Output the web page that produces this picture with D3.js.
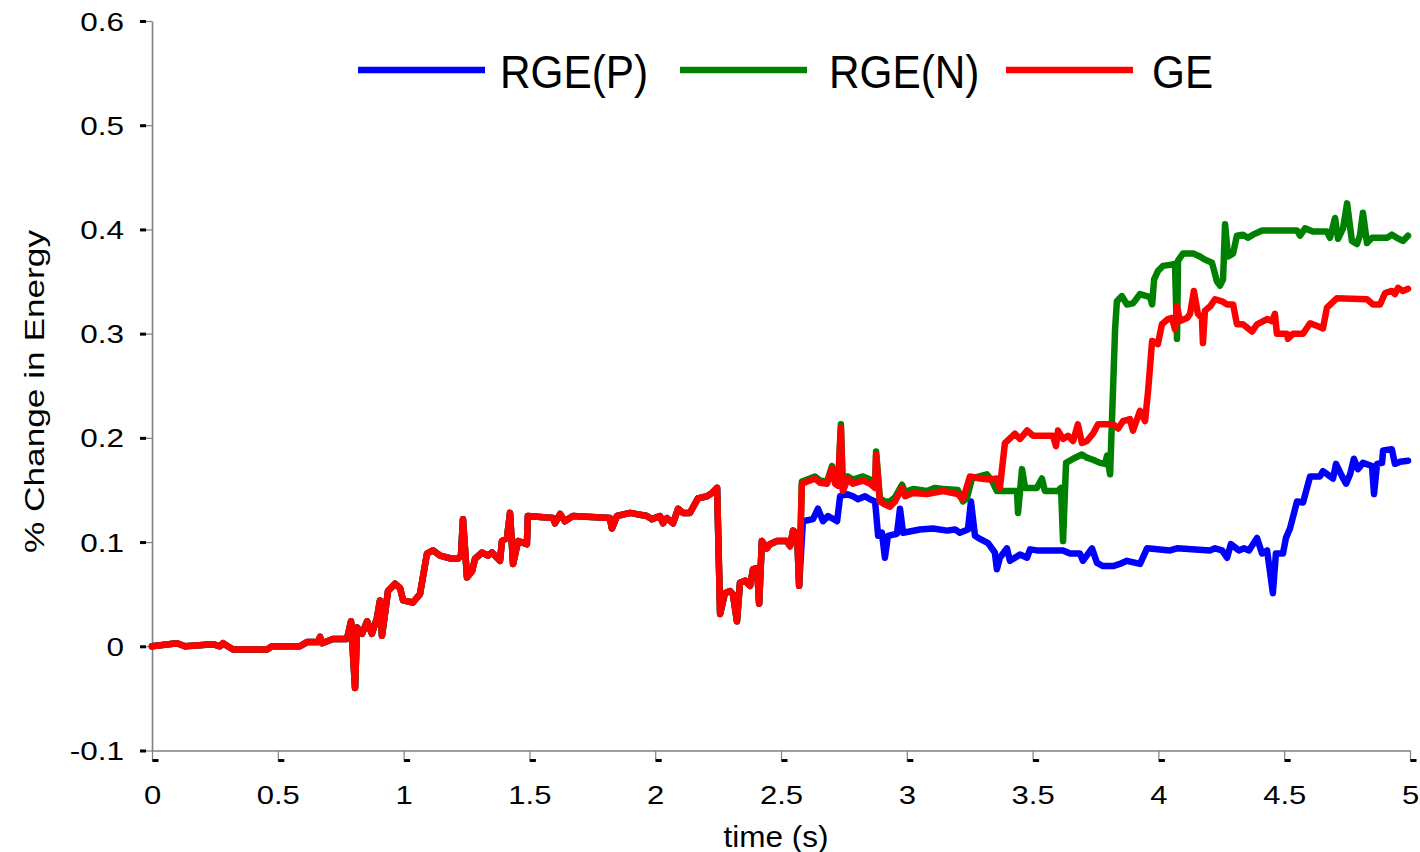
<!DOCTYPE html>
<html>
<head>
<meta charset="utf-8">
<script src="https://cdn.jsdelivr.net/npm/d3@7"></script>
<style>
body { margin: 0; background: #fff; }
text { font-family: "Liberation Sans", Arial, sans-serif; fill: #000; }
</style>
</head>
<body>
<script>
var width = 1420;
var height = 852;

// [time (s), % change] - all three runs coincide until ~2.58 s
var common = [
  [0,0],[0.099,0.003],[0.131,0],[0.242,0.002],[0.27,0],[0.282,0.003],[0.322,-0.003],[0.457,-0.003],
  [0.477,0],[0.588,0],[0.616,0.004],[0.66,0.004],[0.668,0.009],[0.676,0.003],[0.719,0.007],[0.775,0.007],
  [0.791,0.024],[0.807,-0.04],[0.815,0.018],[0.835,0.012],[0.855,0.024],[0.874,0.012],[0.894,0.027],
  [0.906,0.044],[0.914,0.01],[0.922,0.024],[0.938,0.053],[0.966,0.06],[0.986,0.056],[0.998,0.044],
  [1.037,0.042],[1.065,0.05],[1.093,0.089],[1.117,0.092],[1.145,0.087],[1.192,0.084],[1.216,0.084],
  [1.228,0.087],[1.236,0.122],[1.252,0.066],[1.272,0.072],[1.284,0.084],[1.312,0.09],[1.335,0.087],
  [1.351,0.09],[1.383,0.082],[1.391,0.101],[1.411,0.104],[1.423,0.128],[1.435,0.079],[1.455,0.101],
  [1.49,0.098],[1.494,0.125],[1.594,0.123],[1.602,0.118],[1.622,0.127],[1.641,0.12],[1.673,0.125],
  [1.82,0.123],[1.828,0.113],[1.848,0.125],[1.9,0.128],[1.967,0.125],[1.987,0.122],[2.019,0.125],
  [2.031,0.118],[2.047,0.123],[2.071,0.118],[2.091,0.132],[2.11,0.128],[2.138,0.128],[2.17,0.142],
  [2.206,0.144],[2.226,0.147],[2.246,0.152],[2.258,0.031],[2.277,0.051],[2.297,0.053],[2.309,0.05],
  [2.325,0.024],[2.337,0.061],[2.357,0.063],[2.377,0.058],[2.389,0.074],[2.405,0.075],[2.413,0.041],
  [2.424,0.101],[2.444,0.094],[2.456,0.098],[2.484,0.101],[2.524,0.101],[2.536,0.096],[2.548,0.111],
  [2.564,0.108],[2.572,0.058]
];

var rgePTail = [
  [2.587,0.12],[2.627,0.122],[2.647,0.132],[2.667,0.12],[2.687,0.125],[2.723,0.12],[2.735,0.144],
  [2.762,0.146],[2.786,0.144],[2.806,0.141],[2.834,0.144],[2.854,0.141],[2.874,0.139],[2.886,0.106],
  [2.901,0.109],[2.913,0.085],[2.925,0.106],[2.961,0.108],[2.973,0.132],[2.985,0.109],[3.052,0.112],
  [3.104,0.113],[3.16,0.111],[3.192,0.112],[3.211,0.109],[3.243,0.112],[3.255,0.139],[3.271,0.106],
  [3.291,0.103],[3.323,0.099],[3.35,0.09],[3.358,0.074],[3.37,0.085],[3.398,0.094],[3.41,0.082],
  [3.45,0.088],[3.478,0.085],[3.49,0.093],[3.517,0.092],[3.621,0.092],[3.649,0.089],[3.688,0.089],
  [3.7,0.082],[3.736,0.094],[3.756,0.08],[3.78,0.077],[3.82,0.077],[3.847,0.079],[3.875,0.082],
  [3.927,0.079],[3.955,0.094],[4.046,0.092],[4.074,0.094],[4.205,0.092],[4.225,0.094],[4.253,0.092],
  [4.273,0.085],[4.288,0.098],[4.32,0.092],[4.34,0.094],[4.36,0.092],[4.392,0.104],[4.412,0.089],
  [4.432,0.092],[4.455,0.051],[4.467,0.089],[4.495,0.089],[4.507,0.104],[4.523,0.113],[4.551,0.139],
  [4.575,0.138],[4.603,0.163],[4.642,0.163],[4.654,0.168],[4.694,0.161],[4.706,0.175],[4.73,0.163],
  [4.746,0.156],[4.762,0.165],[4.777,0.18],[4.793,0.17],[4.813,0.176],[4.849,0.173],[4.857,0.146],
  [4.869,0.175],[4.889,0.176],[4.893,0.188],[4.928,0.189],[4.94,0.175],[4.96,0.177],[4.992,0.178]
];

var rgeNTail = [
  [2.583,0.158],[2.615,0.161],[2.635,0.163],[2.655,0.159],[2.683,0.158],[2.703,0.173],[2.715,0.158],
  [2.727,0.156],[2.738,0.213],[2.746,0.151],[2.766,0.163],[2.786,0.16],[2.826,0.163],[2.854,0.16],
  [2.874,0.155],[2.878,0.187],[2.893,0.142],[2.913,0.139],[2.933,0.139],[2.953,0.143],[2.981,0.155],
  [2.993,0.148],[3.025,0.151],[3.08,0.149],[3.112,0.152],[3.144,0.151],[3.203,0.15],[3.223,0.139],
  [3.239,0.142],[3.259,0.161],[3.318,0.165],[3.338,0.159],[3.358,0.149],[3.41,0.149],[3.438,0.149],
  [3.442,0.128],[3.458,0.17],[3.47,0.152],[3.517,0.152],[3.537,0.161],[3.549,0.149],[3.601,0.149],
  [3.613,0.152],[3.621,0.101],[3.633,0.176],[3.661,0.18],[3.696,0.184],[3.716,0.181],[3.74,0.179],
  [3.768,0.176],[3.788,0.175],[3.796,0.183],[3.808,0.165],[3.828,0.305],[3.835,0.331],[3.855,0.336],
  [3.875,0.328],[3.899,0.329],[3.927,0.338],[3.967,0.335],[3.975,0.328],[3.983,0.352],[3.998,0.36],
  [4.018,0.365],[4.046,0.366],[4.066,0.367],[4.074,0.295],[4.078,0.37],[4.098,0.377],[4.138,0.377],
  [4.165,0.374],[4.185,0.371],[4.213,0.368],[4.233,0.35],[4.245,0.346],[4.257,0.352],[4.265,0.405],
  [4.277,0.374],[4.297,0.377],[4.312,0.394],[4.336,0.395],[4.356,0.392],[4.376,0.395],[4.412,0.399],
  [4.551,0.399],[4.563,0.394],[4.583,0.401],[4.614,0.398],[4.67,0.398],[4.682,0.392],[4.702,0.411],
  [4.714,0.391],[4.734,0.401],[4.75,0.425],[4.769,0.389],[4.789,0.386],[4.801,0.394],[4.813,0.416],
  [4.829,0.387],[4.849,0.392],[4.909,0.392],[4.928,0.395],[4.948,0.392],[4.972,0.389],[4.992,0.394]
];

var geTail = [
  [2.583,0.156],[2.615,0.159],[2.635,0.161],[2.655,0.157],[2.683,0.156],[2.703,0.171],[2.715,0.156],
  [2.727,0.154],[2.738,0.21],[2.746,0.149],[2.766,0.161],[2.786,0.156],[2.826,0.159],[2.854,0.156],
  [2.874,0.152],[2.878,0.184],[2.893,0.139],[2.913,0.136],[2.933,0.134],[2.953,0.139],[2.981,0.152],
  [2.993,0.144],[3.025,0.147],[3.08,0.146],[3.144,0.149],[3.203,0.146],[3.223,0.141],[3.251,0.163],
  [3.291,0.161],[3.331,0.16],[3.358,0.161],[3.37,0.152],[3.39,0.195],[3.43,0.204],[3.45,0.199],
  [3.478,0.207],[3.502,0.202],[3.581,0.202],[3.593,0.192],[3.601,0.207],[3.621,0.199],[3.641,0.202],
  [3.661,0.197],[3.68,0.213],[3.696,0.195],[3.716,0.197],[3.74,0.204],[3.76,0.213],[3.82,0.213],
  [3.84,0.209],[3.859,0.216],[3.887,0.218],[3.899,0.207],[3.927,0.226],[3.947,0.216],[3.959,0.245],
  [3.975,0.293],[3.998,0.29],[4.014,0.309],[4.038,0.314],[4.054,0.315],[4.066,0.304],[4.074,0.326],
  [4.086,0.312],[4.114,0.315],[4.126,0.319],[4.141,0.341],[4.157,0.319],[4.173,0.315],[4.177,0.291],
  [4.185,0.322],[4.205,0.326],[4.225,0.333],[4.253,0.331],[4.273,0.328],[4.297,0.328],[4.312,0.309],
  [4.336,0.309],[4.372,0.302],[4.392,0.309],[4.432,0.314],[4.452,0.312],[4.463,0.319],[4.471,0.3],
  [4.511,0.3],[4.515,0.295],[4.535,0.3],[4.575,0.3],[4.603,0.31],[4.634,0.307],[4.654,0.305],
  [4.67,0.325],[4.71,0.334],[4.829,0.333],[4.853,0.328],[4.881,0.328],[4.901,0.339],[4.928,0.341],
  [4.94,0.338],[4.952,0.344],[4.972,0.341],[4.992,0.343]
];

var seriesNames = ["RGE(P)", "RGE(N)", "GE"];
var seriesColors = ["#0000ff", "#008000", "#ff0000"];
var xTicks = [0, 0.5, 1, 1.5, 2, 2.5, 3, 3.5, 4, 4.5, 5];
var xTickLabels = ["0", "0.5", "1", "1.5", "2", "2.5", "3", "3.5", "4", "4.5", "5"];
var yTicks = [-0.1, 0, 0.1, 0.2, 0.3, 0.4, 0.5, 0.6];
var yTickLabels = ["-0.1", "0", "0.1", "0.2", "0.3", "0.4", "0.5", "0.6"];

var series = [common.concat(rgePTail), common.concat(rgeNTail), common.concat(geTail)];

var svg = d3.select("body")
    .append("svg")
    .attr("width", width)
    .attr("height", height);

var x = d3.scaleLinear().domain([0, 5]).range([152, 1410]);
var y = d3.scaleLinear().domain([-0.1, 0.6]).range([750.5, 21]);

// the original's labels are drawn wider than Arial
function widen(sel, k) {
  sel.each(function() {
    var w = this.getComputedTextLength();
    d3.select(this).attr("textLength", w * k).attr("lengthAdjust", "spacingAndGlyphs");
  });
}

// y axis
var yAxis = svg.append("g")
    .attr("transform", "translate(152,0)")
    .call(d3.axisLeft(y).tickValues(yTicks).tickSizeInner(12).tickSizeOuter(0).tickPadding(16)
        .tickFormat(function(d, i) { return yTickLabels[i]; }));
yAxis.select(".domain").attr("stroke", "#808080").attr("stroke-width", 1.6);
yAxis.selectAll(".tick line").attr("stroke", "#808080").attr("stroke-width", 1.2);
yAxis.selectAll(".tick").append("rect")
    .attr("x", -12).attr("y", -1.5).attr("width", 6).attr("height", 3).attr("fill", "#000");
yAxis.selectAll(".tick text")
    .attr("font-size", 25)
    .attr("dy", "0.36em")
    .style("font-family", "'Liberation Sans', Arial, sans-serif")
    .call(widen, 1.26);

// x axis
var xAxis = svg.append("g")
    .attr("transform", "translate(0,750.5)")
    .call(d3.axisBottom(x).tickValues(xTicks).tickSizeInner(11).tickSizeOuter(0).tickPadding(25)
        .tickFormat(function(d, i) { return xTickLabels[i]; }));
xAxis.select(".domain").attr("stroke", "#808080").attr("stroke-width", 1.6);
xAxis.selectAll(".tick line").attr("stroke", "#808080").attr("stroke-width", 1.2);
xAxis.selectAll(".tick").append("rect")
    .attr("x", 0).attr("y", 8.5).attr("width", 6).attr("height", 3).attr("fill", "#000");
xAxis.selectAll(".tick text")
    .attr("font-size", 25)
    .attr("y", 53)
    .attr("dy", 0)
    .style("font-family", "'Liberation Sans', Arial, sans-serif")
    .call(widen, 1.24);

// series lines
var line = d3.line()
    .x(function(d) { return x(d[0]); })
    .y(function(d) { return y(d[1]); });

svg.selectAll(".series")
    .data(series)
    .enter()
    .append("path")
    .attr("class", "series")
    .attr("fill", "none")
    .attr("stroke", function(d, i) { return seriesColors[i]; })
    .attr("stroke-width", 6.5)
    .attr("stroke-linejoin", "round")
    .attr("stroke-linecap", "round")
    .attr("d", line);

// axis titles
svg.append("text")
    .attr("x", 776)
    .attr("y", 847)
    .attr("text-anchor", "middle")
    .attr("font-size", 29)
    .attr("textLength", 105)
    .attr("lengthAdjust", "spacingAndGlyphs")
    .text("time (s)");

svg.append("text")
    .attr("transform", "translate(44,391.5) rotate(-90)")
    .attr("text-anchor", "middle")
    .attr("font-size", 28)
    .attr("textLength", 323)
    .attr("lengthAdjust", "spacingAndGlyphs")
    .text("% Change in Energy");

// legend
var legendX = [358, 680, 1006];
var legend = svg.selectAll(".legend")
    .data(seriesNames)
    .enter().append("g")
    .attr("class", "legend")
    .attr("transform", function(d, i) { return "translate(" + legendX[i] + ",70)"; });

legend.append("line")
    .attr("x1", 0).attr("x2", 127)
    .attr("y1", 0).attr("y2", 0)
    .attr("stroke", function(d, i) { return seriesColors[i]; })
    .attr("stroke-width", 6.5);

legend.append("text")
    .attr("x", function(d, i) { return [142, 149, 146][i]; })
    .attr("y", 18)
    .attr("font-size", 46)
    .text(function(d) { return d; })
    .call(widen, 0.92);
</script>
</body>
</html>
